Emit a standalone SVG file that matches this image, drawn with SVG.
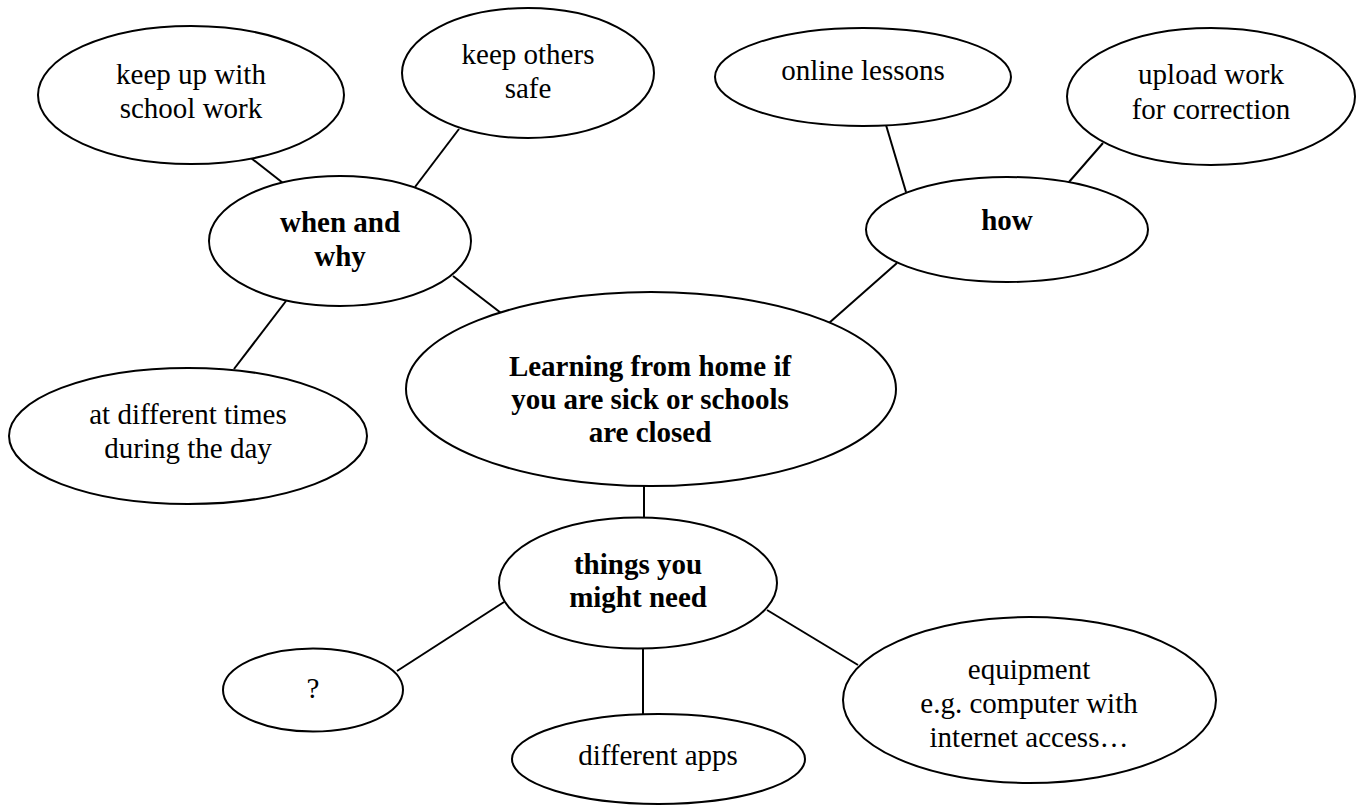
<svg xmlns="http://www.w3.org/2000/svg" width="1360" height="805" viewBox="0 0 1360 805">
<style>
ellipse{fill:#fff;stroke:#000;stroke-width:2}
line{stroke:#000;stroke-width:2}
text{font-family:"Liberation Serif","Times New Roman",serif;font-size:29px;fill:#000;text-anchor:middle}
.b{font-weight:bold}
</style>
<rect width="1360" height="805" fill="#fff"/>
<g id="connectors">
<line x1="251" y1="158" x2="283" y2="183"/>
<line x1="459" y1="129" x2="415" y2="187"/>
<line x1="453" y1="276" x2="501" y2="313"/>
<line x1="286" y1="301" x2="234" y2="369"/>
<line x1="886" y1="125" x2="906" y2="192"/>
<line x1="1103" y1="143" x2="1069" y2="182"/>
<line x1="897" y1="263" x2="829" y2="323"/>
<line x1="644" y1="486" x2="644" y2="518"/>
<line x1="504" y1="602" x2="397" y2="671"/>
<line x1="643" y1="649" x2="643" y2="714"/>
<line x1="767" y1="610" x2="858" y2="665"/>
</g>
<g id="keep-up"><ellipse cx="191" cy="95" rx="153" ry="69"/><text x="191" y="84">keep up with</text><text x="191" y="118">school work</text></g>
<g id="keep-others"><ellipse cx="528" cy="73" rx="126" ry="65"/><text x="528" y="64">keep others</text><text x="528" y="98">safe</text></g>
<g id="when-why"><ellipse cx="340" cy="241" rx="131" ry="65"/><text class="b" x="340" y="232">when and</text><text class="b" x="340" y="266">why</text></g>
<g id="online-lessons"><ellipse cx="863" cy="77" rx="148" ry="49"/><text x="863" y="80">online lessons</text></g>
<g id="upload"><ellipse cx="1211" cy="96.5" rx="144" ry="68.5"/><text x="1211" y="84">upload work</text><text x="1211" y="119">for correction</text></g>
<g id="how"><ellipse cx="1007" cy="229.5" rx="141" ry="52.5"/><text class="b" x="1007" y="230">how</text></g>
<g id="different-times"><ellipse cx="188" cy="436" rx="179" ry="68"/><text x="188" y="424">at different times</text><text x="188" y="458">during the day</text></g>
<g id="center"><ellipse cx="651" cy="389" rx="245" ry="97"/><text class="b" x="650" y="376">Learning from home if</text><text class="b" x="650" y="409">you are sick or schools</text><text class="b" x="650" y="442">are closed</text></g>
<g id="things"><ellipse cx="638" cy="583" rx="139" ry="65.5"/><text class="b" x="638" y="574">things you</text><text class="b" x="638" y="607">might need</text></g>
<g id="question"><ellipse cx="313" cy="690" rx="90" ry="41.5"/><text x="313" y="698">?</text></g>
<g id="apps"><ellipse cx="658.5" cy="759" rx="146.5" ry="45"/><text x="658" y="765">different apps</text></g>
<g id="equipment"><ellipse cx="1029.5" cy="700" rx="186.5" ry="83"/><text x="1029" y="679">equipment</text><text x="1029" y="713">e.g. computer with</text><text x="1029" y="747">internet access…</text></g>
</svg>
